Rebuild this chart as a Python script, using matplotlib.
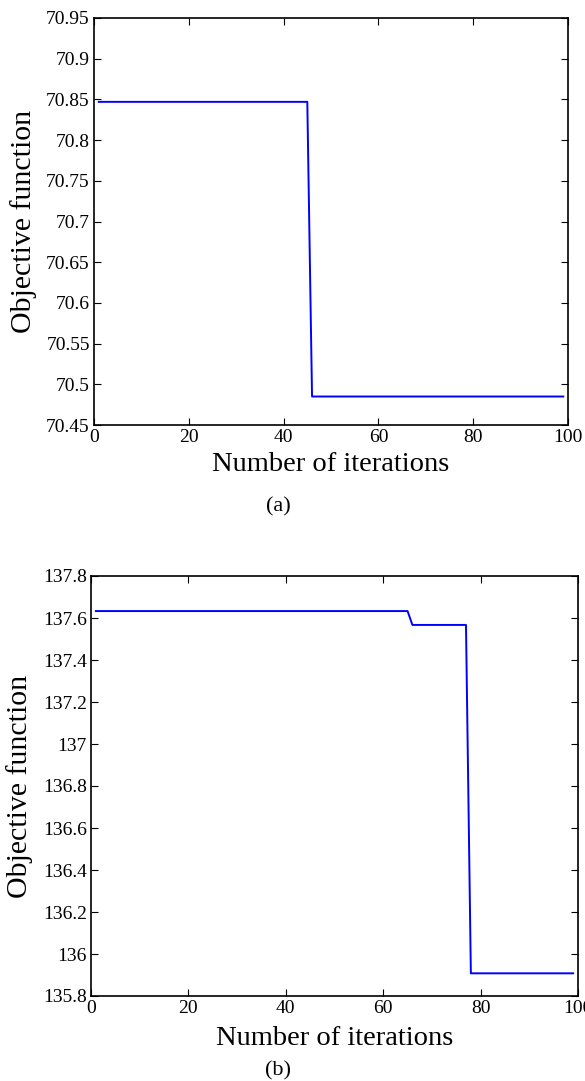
import matplotlib
matplotlib.use('Agg')
import matplotlib.pyplot as plt

plt.rcParams['font.family'] = ['Liberation Serif', 'DejaVu Serif']

# (a) objective function per iteration
iter_a = [1, 45, 46, 99]
obj_a = [70.847, 70.847, 70.485, 70.485]

# (b)
iter_b = [1, 65, 66, 77, 78, 99]
obj_b = [137.633, 137.633, 137.567, 137.567, 135.908, 135.908]

xticks = [0, 20, 40, 60, 80, 100]
yticks_a = [70.45, 70.5, 70.55, 70.6, 70.65, 70.7, 70.75, 70.8, 70.85, 70.9, 70.95]
ylabels_a = ['70.45', '70.5', '70.55', '70.6', '70.65', '70.7', '70.75', '70.8', '70.85', '70.9', '70.95']
yticks_b = [135.8, 136.0, 136.2, 136.4, 136.6, 136.8, 137.0, 137.2, 137.4, 137.6, 137.8]
ylabels_b = ['135.8', '136', '136.2', '136.4', '136.6', '136.8', '137', '137.2', '137.4', '137.6', '137.8']

W, H = 585, 1081
fig = plt.figure(figsize=(W / 100, H / 100), dpi=100)

ax1 = fig.add_axes([94 / W, (H - 425) / H, 474 / W, 407 / H])
ax2 = fig.add_axes([91 / W, (H - 996) / H, 487 / W, 420 / H])

panels = [
    (ax1, iter_a, obj_a, yticks_a, ylabels_a, (70.45, 70.95), -0.12, -0.067),
    (ax2, iter_b, obj_b, yticks_b, ylabels_b, (135.8, 137.8), -0.119, -0.072),
]
for ax, x, y, yt, yl, ylim, ylx, xly in panels:
    ax.plot(x, y, color='#0000ff', linewidth=1.4)
    ax.set_xlim(0, 100)
    ax.set_ylim(*ylim)
    ax.set_xticks(xticks)
    ax.set_xticklabels([str(t) for t in xticks])
    ax.set_yticks(yt)
    ax.set_yticklabels(yl)
    ax.tick_params(direction='in', top=True, right=True, length=5, width=0.8,
                   labelsize=14, pad=3)
    for s in ax.spines.values():
        s.set_linewidth(1.2)
    ax.set_xlabel('Number of iterations', fontsize=20.5)
    ax.set_ylabel('Objective function', fontsize=21.5)
    ax.yaxis.set_label_coords(ylx, 0.5)
    ax.xaxis.set_label_coords(0.5, xly)

fig.text(278 / W, 1 - 507 / H, '(a)', ha='center', va='center', fontsize=16)
fig.text(278 / W, 1 - 1071 / H, '(b)', ha='center', va='center', fontsize=16)

fig.savefig('out.png', dpi=100)
